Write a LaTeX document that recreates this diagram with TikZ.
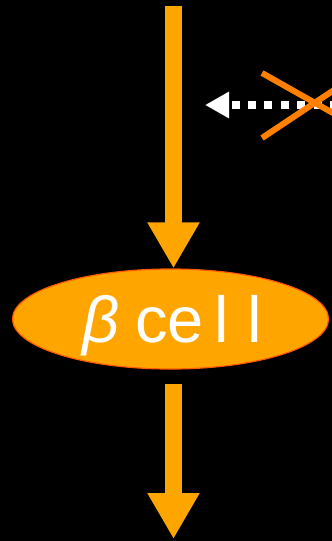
\documentclass[tikz,border=0pt]{standalone}
\usepackage{fontspec}
\setmainfont{Liberation Sans}
\usetikzlibrary{arrows.meta,shapes.geometric}
\definecolor{arrowor}{HTML}{FFA500}
\definecolor{celledge}{HTML}{FF5A00}
\definecolor{crossor}{HTML}{FF7F00}
\tikzset{
  fatarrow/.style={draw=arrowor, line width=17pt, line cap=butt,
    -{Triangle[width=49pt,length=46pt]}},
  cellshape/.style={ellipse, fill=arrowor, draw=celledge, line width=1.2pt,
    minimum width=316pt, minimum height=100pt, inner sep=0pt},
  celltext/.style={text=white, font=\fontsize{65}{65}\selectfont, inner sep=0pt, anchor=base west},
  inhibit/.style={draw=white, line width=8pt, dash pattern=on 8pt off 8.4pt,
    -{Triangle[width=25pt,length=24pt]}},
  crossline/.style={draw=crossor, line width=6pt}
}
\begin{document}
\begin{tikzpicture}[x=1pt,y=-1pt]
  \fill[black] (0,0) rectangle (332,541);
  \useasboundingbox (0,0) rectangle (332,541);
  \clip (0,0) rectangle (332,541);
  \node[cellshape] (cell) at (170.5,319) {};
  \node[celltext] (celllabel) at (82,342) {{\itshape β}\hspace{16pt}ce\hspace{11pt}l\hspace{18pt}l};
  \coordinate (top) at (173.5,6);
  \coordinate (bottom) at (173.5,539);
  \draw[fatarrow] (top) -- (top |- cell.north);
  \draw[fatarrow, shorten <=14pt] (bottom |- cell.south) -- (bottom);
  \coordinate (inhstart) at (338,105);
  \coordinate (inhend) at (205,105);
  \draw[inhibit] (inhstart) -- (inhend);
  \coordinate (xa) at (262,73);
  \coordinate (xb) at (340,117);
  \coordinate (xc) at (262,138);
  \coordinate (xd) at (340,86);
  \draw[crossline] (xa) -- (xb);
  \draw[crossline] (xc) -- (xd);
\end{tikzpicture}
\end{document}
